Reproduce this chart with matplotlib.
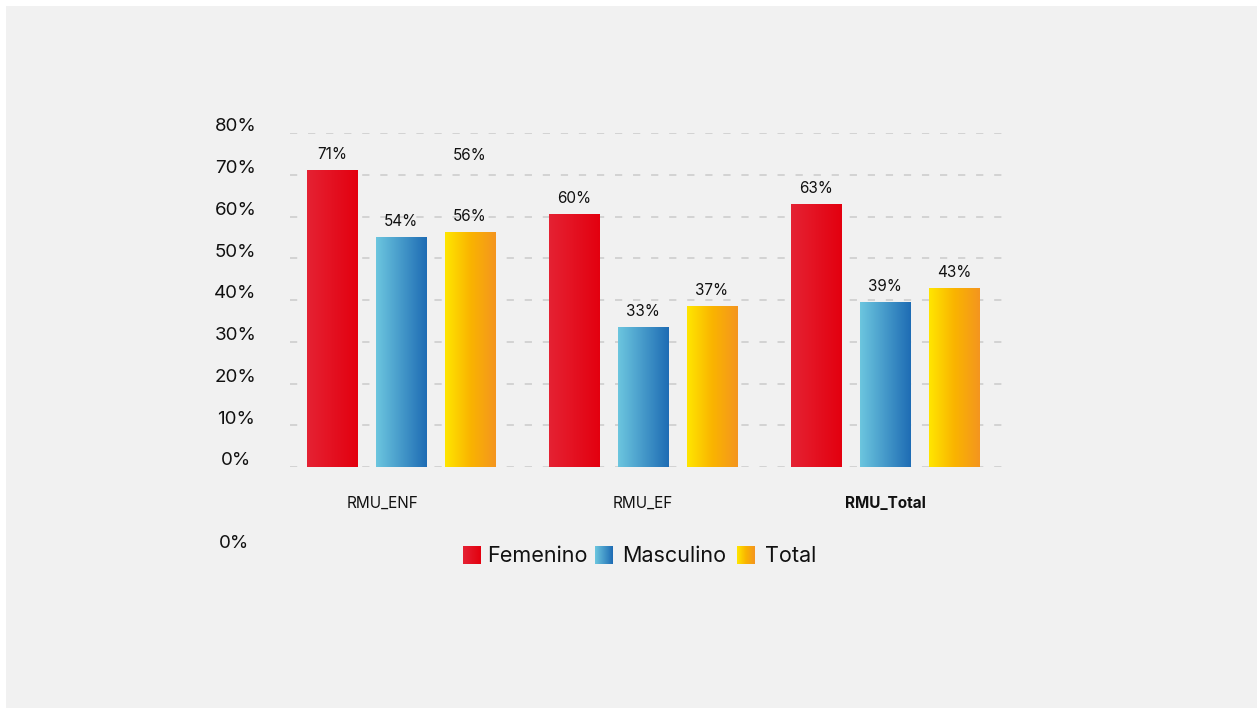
import numpy as np
import matplotlib.pyplot as plt
from matplotlib.colors import LinearSegmentedColormap
from matplotlib.patches import Rectangle

plt.rcParams['font.family'] = ['Inter', 'DejaVu Sans']

categories = ['RMU_ENF', 'RMU_EF', 'RMU_Total']
series = ['Femenino', 'Masculino', 'Total']
femenino = [71.1, 60.6, 63.0]
masculino = [55.1, 33.5, 39.5]
total = [56.3, 38.6, 42.9]
fem_labels = ['71%', '60%', '63%']
mas_labels = ['54%', '33%', '39%']
tot_labels = ['56%', '37%', '43%']
yticks = [0, 10, 20, 30, 40, 50, 60, 70, 80]

GRADIENTS = {
    'Femenino': ['#e52233', '#e3000f'],
    'Masculino': ['#6cc6df', '#1e6cb4'],
    'Total': ['#ffe600', '#fab400', '#f4951f'],
}

BG = '#f1f1f1'
W, H = 1259, 708


def grad_fill(ax, bar, colors):
    cmap = LinearSegmentedColormap.from_list('g', colors)
    x0, y0 = bar.get_x(), bar.get_y()
    img = ax.imshow(np.linspace(0, 1, 256).reshape(1, -1), cmap=cmap,
                    aspect='auto', extent=(x0, x0 + bar.get_width(), y0, y0 + bar.get_height()),
                    zorder=3, interpolation='bicubic')
    img.set_clip_path(bar)


fig = plt.figure(figsize=(W / 100, H / 100), dpi=100, facecolor='white')
fig.patches.append(Rectangle((6 / W, 0), (W - 8) / W, (H - 6) / H,
                             transform=fig.transFigure, facecolor=BG, edgecolor='none', zorder=-10))

ax = fig.add_axes([290 / W, 241 / H, 722 / W, 334 / H])
ax.set_facecolor('none')

x = np.arange(len(categories))
width = 0.207
step = 0.285
data = [femenino, masculino, total]
labels = [fem_labels, mas_labels, tot_labels]

for i, (name, vals, labs) in enumerate(zip(series, data, labels)):
    bars = ax.bar(x + (i - 1) * step, vals, width, color='none', edgecolor='none', zorder=3)
    for b, lab in zip(bars, labs):
        grad_fill(ax, b, GRADIENTS[name])
        ax.text(b.get_x() + b.get_width() / 2, b.get_height() + 3.7, lab,
                ha='center', va='center', fontsize=11, color='#111111', zorder=4)

# stray duplicate label above the first Total bar
ax.text(x[0] + step, 74.5, tot_labels[0], ha='center', va='center', fontsize=11, color='#111111')

ax.set_xlim(-0.459, 2.525)
ax.set_ylim(0, 80)
for t in yticks:
    ax.axhline(t, color='#d0d0d0', lw=1.3, ls=(0, (4, 6)), zorder=1)
    ax.text(-0.684, t + 1.45, f'{t}%', ha='center', va='center', fontsize=13.5, color='#111111')

for xi, cat in zip(x, categories):
    shift = -0.075 if cat == 'RMU_ENF' else 0
    ax.text(xi + shift, -8.8, cat, ha='center', va='center', fontsize=11, color='#111111',
            fontweight='bold' if cat == 'RMU_Total' else 'normal')

ax.set_xticks([])
ax.set_yticks([])
for s in ax.spines.values():
    s.set_visible(False)

fig.text(234 / W, 1 - 543 / H, '0%', ha='center', va='center', fontsize=13.5, color='#111111')

# legend
leg_items = [(463, 487, 'Femenino'), (595, 622, 'Masculino'), (737, 765, 'Total')]
for (sx, tx, name) in leg_items:
    lax = fig.add_axes([sx / W, 1 - 564 / H, 18 / W, 18 / H])
    lax.imshow(np.linspace(0, 1, 64).reshape(1, -1),
               cmap=LinearSegmentedColormap.from_list('g', GRADIENTS[name]), aspect='auto')
    lax.axis('off')
    fig.text(tx / W, 1 - 556 / H, name, ha='left', va='center', fontsize=15.5, color='#111111')

fig.savefig('out.png', dpi=100, facecolor='white')
